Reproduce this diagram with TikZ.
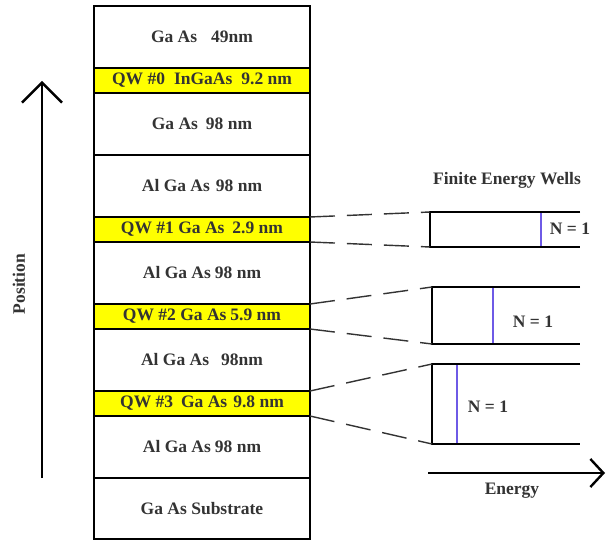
\documentclass[tikz,border=0pt]{standalone}
\usepackage{fontspec}
\setmainfont{Liberation Serif}
\usetikzlibrary{arrows.meta,positioning}
\definecolor{QWYellow}{HTML}{FFFF00}
\definecolor{LevelBlue}{HTML}{6E5AE6}
\newcommand{\lblfont}{\fontsize{17.5}{20}\selectfont\bfseries\color{black!80}}

\begin{document}
\begin{tikzpicture}[x=1pt,y=-1pt,
    lay/.style={draw=black,line width=1.2pt,minimum width=216pt,minimum height=62pt,inner sep=0pt,outer sep=0pt,font=\lblfont},
    qw/.style={lay,fill=QWYellow,minimum height=25pt},
    sep/.style={line width=2.4pt},
    well/.style={line width=2.6pt},
    lvl/.style={line width=1.4pt,draw=LevelBlue},
    dsh/.style={line width=1.4pt,draw=black!80,dash pattern=on 25pt off 12pt},
    ax/.style={line width=1.8pt,-{Straight Barb[length=20pt,width=40pt,line width=2.4pt]}},
    ex/.style={line width=1.8pt,-{Straight Barb[length=13pt,width=28pt,line width=2.4pt]}},
    lbl/.style={font=\lblfont,inner sep=1pt}]
  \useasboundingbox (0,0) rectangle (607,540);
  \node[lay,anchor=north west] (gaas0) at (94,6) {Ga As\hspace{14pt}49nm};
  \node[qw,below=0pt of gaas0] (qw0) {QW \#0\hspace{9pt}InGaAs\hspace{9pt}9.2 nm};
  \node[lay,below=0pt of qw0] (gaas1) {Ga As\hspace{8pt}98 nm};
  \node[lay,below=0pt of gaas1] (al1) {Al Ga As\hspace{6pt}98 nm};
  \node[qw,below=0pt of al1] (qw1) {QW \#1 Ga As\hspace{8pt}2.9 nm};
  \node[lay,below=0pt of qw1] (al2) {Al Ga As\hspace{4pt}98 nm};
  \node[qw,below=0pt of al2] (qw2) {QW \#2 Ga As\hspace{4pt}5.9 nm};
  \node[lay,below=0pt of qw2] (al3) {Al Ga As\hspace{12pt}98nm};
  \node[qw,below=0pt of al3] (qw3) {QW \#3\hspace{8pt}Ga As\hspace{6pt}9.8 nm};
  \node[lay,below=0pt of qw3] (al4) {Al Ga As\hspace{4pt}98 nm};
  \node[lay,below=0pt of al4,minimum height=61pt] (sub) {Ga As Substrate};
  \foreach \n in {gaas0,qw0,gaas1,al1,qw1,al2,qw2,al3,qw3,al4}
    \draw[sep] (\n.south west) -- (\n.south east);

  \coordinate (pbot) at (42,478); \coordinate (ptop) at (42,81);
  \draw[ax] (pbot) -- (ptop);
  \node[lbl,rotate=90] (poslab) at (19,284) {Position};

  \node[lbl] (title) at (507,180) {Finite Energy Wells};
  \coordinate (w1t) at (430,212); \coordinate (w1b) at (430,247);
  \coordinate (w2t) at (432,287); \coordinate (w2b) at (432,344);
  \coordinate (w3t) at (432,364); \coordinate (w3b) at (432,444);
  \draw[well] (580,212) -- (w1t) -- (w1b) -- (580,247);
  \draw[well] (580,287) -- (w2t) -- (w2b) -- (580,344);
  \draw[well] (580,364) -- (w3t) -- (w3b) -- (580,444);
  \draw[lvl] (541,213) -- (541,246);
  \draw[lvl] (493,288) -- (493,343);
  \draw[lvl] (457,365) -- (457,443);
  \node[lbl] (n1) at (570,229) {N = 1};
  \node[lbl] (n2) at (533,322) {N = 1};
  \node[lbl] (n3) at (488,407) {N = 1};

  \draw[dsh] (qw1.north east) -- (w1t); \draw[dsh] (qw1.south east) -- (w1b);
  \draw[dsh] (qw2.north east) -- (w2t); \draw[dsh] (qw2.south east) -- (w2b);
  \draw[dsh] (qw3.north east) -- (w3t); \draw[dsh] (qw3.south east) -- (w3b);

  \coordinate (e0) at (428,473); \coordinate (e1) at (605,473);
  \draw[ex] (e0) -- (e1);
  \node[lbl] (elab) at (512,491) {Energy};
\end{tikzpicture}
\end{document}
